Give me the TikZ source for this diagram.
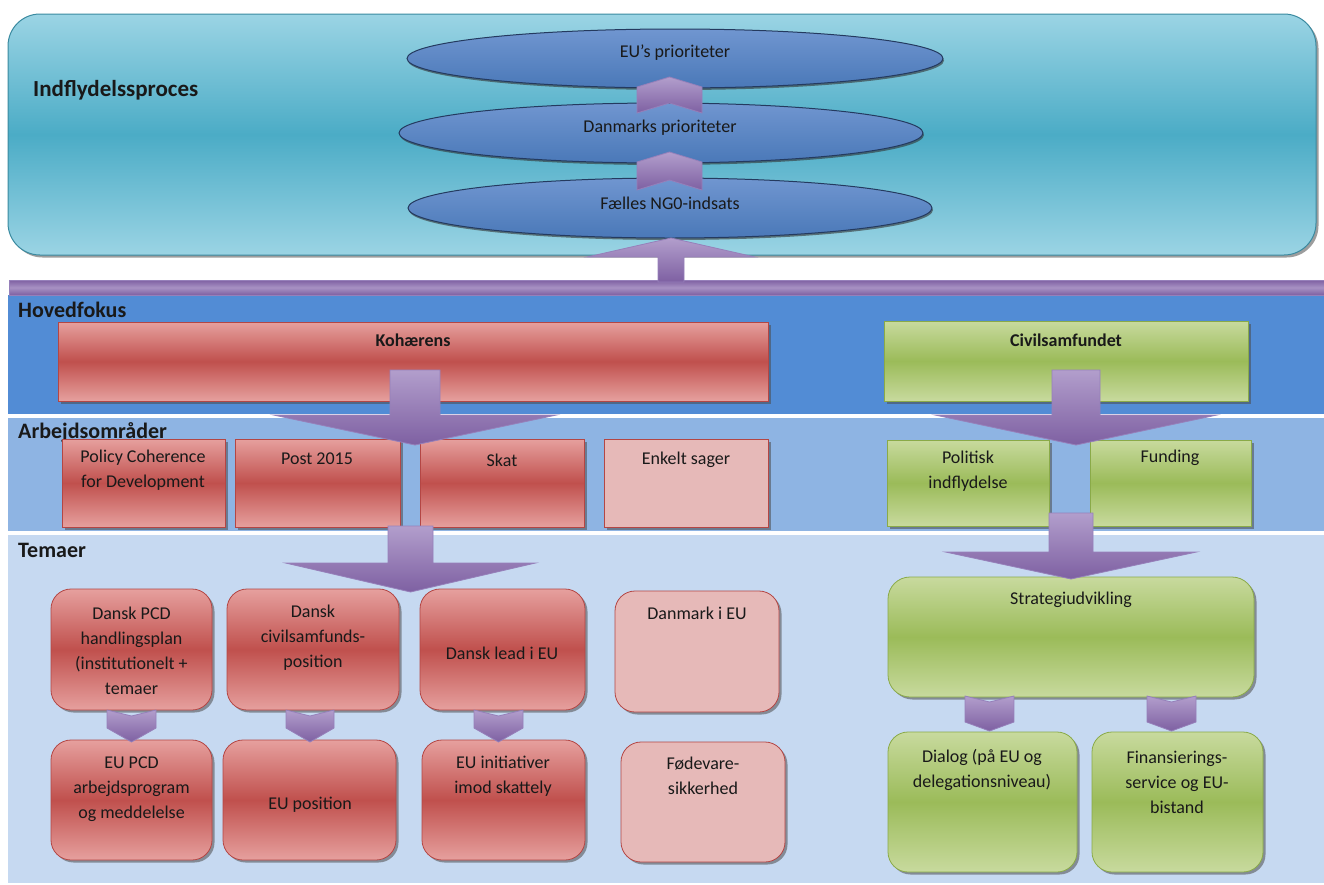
\documentclass[tikz,border=0pt]{standalone}
\usepackage{fontspec}
\setmainfont{Carlito}
\usetikzlibrary{shapes.geometric,shadows}
\definecolor{tblue}{RGB}{155,212,228}
\definecolor{tbluedk}{RGB}{75,172,198}
\definecolor{tblueln}{RGB}{58,138,160}
\definecolor{elllt}{RGB}{112,150,208}
\definecolor{elldk}{RGB}{74,120,184}
\definecolor{ellln}{RGB}{36,58,95}
\definecolor{purlt}{RGB}{178,158,204}
\definecolor{purdk}{RGB}{126,96,162}
\definecolor{purln}{RGB}{150,128,186}
\definecolor{hovband}{RGB}{82,140,213}
\definecolor{arbband}{RGB}{142,180,227}
\definecolor{temband}{RGB}{198,217,241}
\definecolor{redlt}{RGB}{230,160,158}
\definecolor{reddk}{RGB}{192,80,77}
\definecolor{redln}{RGB}{180,70,68}
\definecolor{pink}{RGB}{230,185,184}
\definecolor{grnlt}{RGB}{200,218,158}
\definecolor{grndk}{RGB}{155,187,89}
\definecolor{grnln}{RGB}{138,170,72}
\tikzset{
  x=1pt, y=-1pt,
  shd/.style={drop shadow={shadow xshift=2.5pt,shadow yshift=-2.5pt,opacity=0.55,fill=black!70}},
  toprect/.style={draw=tblueln, line width=1pt, top color=tblue, bottom color=tblue, middle color=tbluedk, rounded corners=32pt, inner sep=0pt, shd},
  ell/.style={ellipse, draw=ellln, line width=1pt, top color=elllt, bottom color=elldk, inner sep=0pt, drop shadow={shadow xshift=1pt,shadow yshift=-2pt,opacity=0.6,fill=black!80}},
  band/.style={inner sep=0pt, draw=none},
  redbox/.style={draw=redln, line width=0.8pt, top color=redlt, bottom color=redlt, middle color=reddk, inner sep=0pt, shd},
  pinkbox/.style={draw=redln, line width=0.8pt, fill=pink, inner sep=0pt, shd},
  grnbox/.style={draw=grnln, line width=0.8pt, top color=grnlt, bottom color=grnlt, middle color=grndk, inner sep=0pt, shd},
  rnd/.style={rounded corners=20pt},
  parrow/.style={draw=purln, line width=0.8pt, top color=purlt, bottom color=purdk},
  txt/.style={font=\fontsize{18}{25}\selectfont, align=center, inner sep=0pt, text=black!90},
  btxt/.style={font=\fontsize{18}{25}\selectfont\bfseries, align=center, inner sep=0pt, text=black!90},
  lbl/.style={font=\fontsize{22}{26}\selectfont\bfseries, anchor=west, inner sep=0pt, text=black!90},
}
% big block arrow pointing down: cx, half shaft, ytop, ybase, half head, ytip
\newcommand\bigdown[6]{%
  \path[parrow] ({#1-#2},#3) -- ({#1+#2},#3) -- ({#1+#2},#4) -- ({#1+#5},#4) -- (#1,#6) -- ({#1-#5},#4) -- ({#1-#2},#4) -- cycle;}
% chevron pointing down: cx, half width, ytop, ynotch, yside, ytip
\newcommand\chevdown[6]{%
  \path[parrow] ({#1-#2},#3) -- (#1,#4) -- ({#1+#2},#3) -- ({#1+#2},#5) -- (#1,#6) -- ({#1-#2},#5) -- cycle;}
% chevron pointing up: cx, half width, ytip, yshoulder, ybottom, ynotch
\newcommand\chevup[6]{%
  \path[parrow] ({#1-#2},#4) -- (#1,#3) -- ({#1+#2},#4) -- ({#1+#2},#5) -- (#1,#6) -- ({#1-#2},#5) -- cycle;}
\begin{document}
\begin{tikzpicture}
\useasboundingbox (0,0) rectangle (1324,884);
% ---------- influence process ----------
\node[toprect, minimum width=1308pt, minimum height=241pt] (proc) at (662,134.5) {};
\node[lbl, font=\fontsize{23}{26}\selectfont\bfseries] (proclbl) at (33,90) {Indflydelssproces};
\node[ell, minimum width=536pt, minimum height=59pt] (e1) at (675,58.5) {};
\node[ell, minimum width=524pt, minimum height=60pt] (e2) at (661,133) {};
\node[ell, minimum width=524pt, minimum height=60pt] (e3) at (670,208) {};
\node[txt] (e1t) at (675,53) {EU’s prioriteter};
\node[txt] (e2t) at (660,128) {Danmarks prioriteter};
\node[txt] (e3t) at (670,203) {Fælles NG0-indsats};
\chevup{669.5}{32.5}{77}{87}{113}{103}
\chevup{669.5}{32.5}{152}{162}{190}{180}
% ---------- bands ----------
\node[band, fill=hovband, minimum width=1316pt, minimum height=119pt] (hov) at (666,354.5) {};
\node[band, fill=arbband, minimum width=1316pt, minimum height=113pt] (arb) at (666,474.5) {};
\node[band, fill=temband, minimum width=1316pt, minimum height=348pt] (tem) at (666,709) {};
\path[top color=purdk, bottom color=purdk, middle color=purlt!80!purdk, draw=purln] (9,280) rectangle (1324,295);
\bigdown{671}{13}{282}{257}{84}{238}
\node[lbl] (hovlbl) at (18,310) {Hovedfokus};
\node[lbl] (arblbl) at (18,432) {Arbejdsområder};
\node[lbl] (temlbl) at (18,550) {Temaer};
% ---------- main focus ----------
\node[redbox, minimum width=710pt, minimum height=79pt] (koh) at (413,361.5) {};
\node[btxt] (koht) at (413,340) {Kohærens};
\node[grnbox, minimum width=364pt, minimum height=80pt] (civ) at (1066,361) {};
\node[btxt] (civt) at (1066,340) {Civilsamfundet};
% ---------- work areas ----------
\node[redbox, minimum width=163pt, minimum height=88pt] (pcd) at (143.5,483) {};
\node[redbox, minimum width=165pt, minimum height=88pt] (post) at (317.5,483) {};
\node[redbox, minimum width=164pt, minimum height=88pt] (skat) at (502,483) {};
\node[pinkbox, minimum width=164pt, minimum height=88pt] (enk) at (686,483) {};
\node[grnbox, minimum width=162pt, minimum height=86pt] (pol) at (968,483) {};
\node[grnbox, minimum width=161pt, minimum height=86pt] (fund) at (1170.5,483) {};
\node[txt] (pcdt) at (143,470) {Policy Coherence\\for Development};
\node[txt] (postt) at (317,459) {Post 2015};
\node[txt] (skatt) at (502,460) {Skat};
\node[txt] (enkt) at (686,460) {Enkelt sager};
\node[txt] (polt) at (968,471) {Politisk\\indflydelse};
\node[txt] (fundt) at (1170,458) {Funding};
\bigdown{415}{25}{370}{415}{141.5}{445}
\bigdown{1076}{24}{370}{415}{141}{445}
% ---------- themes ----------
\node[redbox, rnd, minimum width=161pt, minimum height=121pt] (ta) at (131.5,649.5) {};
\node[redbox, rnd, minimum width=172pt, minimum height=121pt] (tb) at (313,649.5) {};
\node[redbox, rnd, minimum width=165pt, minimum height=121pt] (tc) at (502.5,649.5) {};
\node[pinkbox, rnd, minimum width=164pt, minimum height=121pt] (td) at (697,651.5) {};
\node[redbox, rnd, minimum width=161pt, minimum height=120pt] (ua) at (131.5,800) {};
\node[redbox, rnd, minimum width=173pt, minimum height=120pt] (ub) at (309.5,800) {};
\node[redbox, rnd, minimum width=163pt, minimum height=120pt] (uc) at (503.5,800) {};
\node[pinkbox, rnd, minimum width=164pt, minimum height=120pt] (ud) at (703,802) {};
\node[txt] (tat) at (131.5,651) {Dansk PCD\\handlingsplan\\(institutionelt +\\temaer};
\node[txt] (tbt) at (313,638) {Dansk\\civilsamfunds-\\position};
\node[txt] (tct) at (502,653) {Dansk lead i EU};
\node[txt] (tdt) at (697,613) {Danmark i EU};
\node[txt] (uat) at (131.5,789) {EU PCD\\arbejdsprogram\\og meddelelse};
\node[txt] (ubt) at (310,805) {EU position};
\node[txt] (uct) at (503,776) {EU initiativer\\imod skattely};
\node[txt] (udt) at (703,776) {Fødevare-\\sikkerhed};
\node[grnbox, rounded corners=22pt, minimum width=366pt, minimum height=120pt] (str) at (1071,637) {};
\node[grnbox, rnd, minimum width=189pt, minimum height=140pt] (dia) at (982.5,802) {};
\node[grnbox, rnd, minimum width=171pt, minimum height=140pt] (fin) at (1177.5,802) {};
\node[txt] (strt) at (1071,600) {Strategiudvikling};
\node[txt] (diat) at (982,770) {Dialog (på EU og\\delegationsniveau)};
\node[txt] (fint) at (1177,782) {Finansierings-\\service og EU-\\bistand};
\bigdown{410.5}{22.5}{526}{563}{125}{592}
\bigdown{1071}{22}{513}{552}{125.5}{579}
\chevdown{131.5}{24.5}{710}{716}{728}{742}
\chevdown{310}{24}{710}{716}{728}{742}
\chevdown{498.5}{24.5}{710}{716}{728}{742}
\chevdown{989.5}{24.5}{696}{702}{722}{731}
\chevdown{1171.5}{24.5}{696}{702}{722}{731}
\end{tikzpicture}
\end{document}
